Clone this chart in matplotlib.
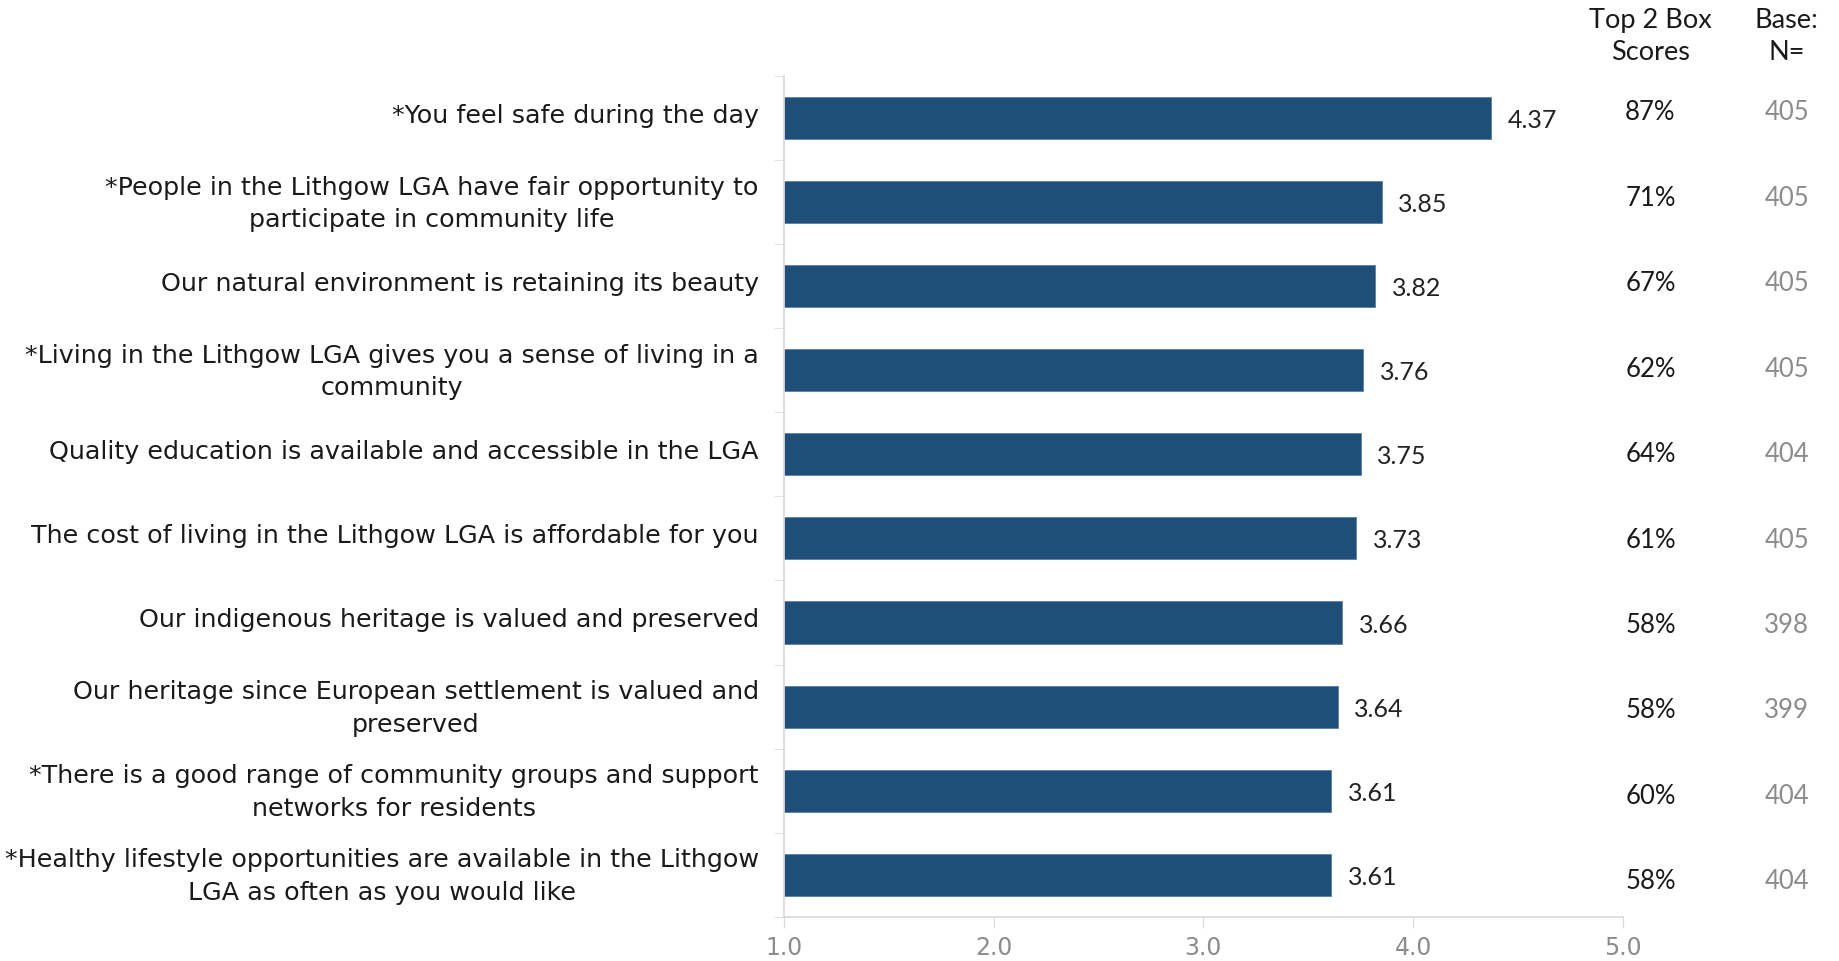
import numpy as np
import matplotlib.pyplot as plt
import matplotlib.transforms as mtransforms

# statements, mean score, top 2 box %, base
statements = [
    "*You feel safe during the day",
    "*People in the Lithgow LGA have fair opportunity to\nparticipate in community life",
    "Our natural environment is retaining its beauty",
    "*Living in the Lithgow LGA gives you a sense of living in a\ncommunity",
    "Quality education is available and accessible in the LGA",
    "The cost of living in the Lithgow LGA is affordable for you",
    "Our indigenous heritage is valued and preserved",
    "Our heritage since European settlement is valued and\npreserved",
    "*There is a good range of community groups and support\nnetworks for residents",
    "*Healthy lifestyle opportunities are available in the Lithgow\nLGA as often as you would like",
]
means = [4.37, 3.85, 3.82, 3.76, 3.75, 3.73, 3.66, 3.64, 3.61, 3.61]
top2 = ["87%", "71%", "67%", "62%", "64%", "61%", "58%", "58%", "60%", "58%"]
base = [405, 405, 405, 405, 404, 405, 398, 399, 404, 404]
xticks = [1.0, 2.0, 3.0, 4.0, 5.0]

plt.rcParams['font.family'] = ['DejaVu Sans']
bar_col = '#1f4e79'
grid_col = '#d9d9d9'

fig = plt.figure(figsize=(18.4, 9.61), dpi=100)
ax = fig.add_axes([0.426, 0.046, 0.456, 0.875])

y = np.arange(len(statements))
ax.barh(y, np.array(means) - 1, left=1, height=0.5, color=bar_col,
        edgecolor='#5b7fa6', linewidth=0.6)
for yi, m in zip(y, means):
    ax.text(m + 0.08, yi + 0.03, f"{m:.2f}", va='center', ha='left',
            fontsize=18, color='#222222', family=['Lato'])

ax.set_xlim(1, 5)
ax.set_ylim(len(statements) - 0.5, -0.5)
ax.set_xticks(xticks)
ax.set_xticklabels([f"{t:.1f}" for t in xticks],
                   family=['Liberation Sans Narrow', 'DejaVu Sans'],
                   fontsize=17, color='#8c8c8c')
ax.set_yticks(y)
ax.set_yticklabels(statements, fontsize=18.3, color='#1a1a1a',
                   multialignment='center', linespacing=1.45)
ax.set_yticks(np.arange(-0.5, len(statements), 1), minor=True)
ax.tick_params(axis='y', which='major', length=0, pad=18)
ax.tick_params(axis='y', which='minor', length=7, color=grid_col)
ax.tick_params(axis='x', length=8, color=grid_col, pad=6)

# nudge the statement labels up a little
lift = mtransforms.ScaledTranslation(0, 3.5 / 72, fig.dpi_scale_trans)
for lab in ax.get_yticklabels():
    lab.set_transform(lab.get_transform() + lift)

for s in ['top', 'right']:
    ax.spines[s].set_visible(False)
for s in ['left', 'bottom']:
    ax.spines[s].set_color(grid_col)
    ax.spines[s].set_linewidth(1.2)

# side columns, rows spaced slightly wider than the bars
xc1, xc2 = 0.897, 0.971
fig.text(xc1, 0.962, "Top 2 Box\nScores", ha='center', va='center',
         fontsize=19.5, color='#1a1a1a', linespacing=1.35, family=['Lato'])
fig.text(xc2, 0.962, "Base:\nN=", ha='center', va='center',
         fontsize=19.5, color='#1a1a1a', linespacing=1.35, family=['Lato'])
row0, step = 0.8825, 0.0889
for i, (t, b) in enumerate(zip(top2, base)):
    yf = row0 - i * step
    fig.text(xc1, yf, t, ha='center', va='center', fontsize=18.5,
             color='#1a1a1a', family=['Lato'])
    fig.text(xc2, yf, str(b), ha='center', va='center', fontsize=18.5,
             color='#8c8c8c', family=['Lato'])

fig.savefig('out.png', dpi=100)
